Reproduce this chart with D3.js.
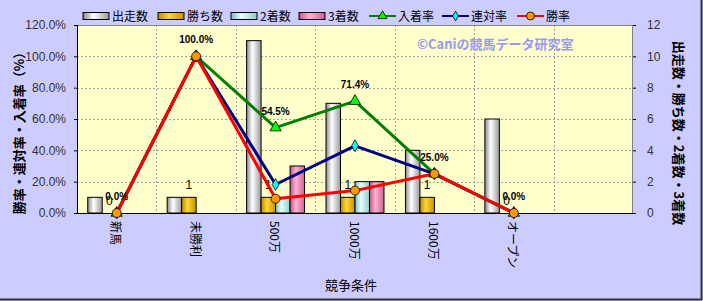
<!DOCTYPE html>
<html>
<head>
<meta charset="utf-8">
<script src="https://cdn.jsdelivr.net/npm/d3@7"></script>
<style>
  body { margin: 0; background: #fff; }
  text { font-family: "Liberation Sans", Arial, sans-serif; }
  .jp { font-family: "Noto Sans CJK JP", sans-serif; }
</style>
</head>
<body>
<div id="chart"></div>
<script>
// categories (7th slot is empty in the original)
var categories = ["新馬", "未勝利", "500万", "1000万", "1600万", "オープン", ""];
var countSeries = ["出走数", "勝ち数", "2着数", "3着数"];
var starts  = [1, 1, 11, 7, 4, 6];
var wins    = [0, 1, 1, 1, 1, 0];
var seconds = [0, 0, 1, 2, 0, 0];
var thirds  = [0, 0, 3, 2, 0, 0];
var placeRate = [0, 100, 54.5, 71.4, 25, 0];   // 入着率
var quinRate  = [0, 100, 18.2, 42.9, 25, 0];   // 連対率
var winRate   = [0, 100, 9.1, 14.3, 25, 0];    // 勝率
var leftTicks = [0, 20, 40, 60, 80, 100, 120];
var rightTicks = [0, 2, 4, 6, 8, 10, 12];

var W = 703, H = 301;
var L = 77, R = 633, T = 25, B = 213;

var svg = d3.select("#chart").append("svg")
    .attr("width", W).attr("height", H);

svg.append("rect").attr("width", W).attr("height", H).attr("fill", "#ccccff");
svg.append("line").attr("x1", 701.5).attr("x2", 701.5).attr("y1", 0).attr("y2", 300)
    .attr("stroke", "#333").attr("stroke-width", 2);
svg.append("line").attr("x1", 0).attr("x2", 702).attr("y1", 299.5).attr("y2", 299.5)
    .attr("stroke", "#333").attr("stroke-width", 2);

// gradients for the cylinder-ish bars
var defs = svg.append("defs");
var barColors = {
  "出走数": ["#8a8a8a", "#ffffff", "#9a9a9a"],
  "勝ち数": ["#b88a00", "#ffd633", "#c89400"],
  "2着数": ["#7fbcbc", "#e6ffff", "#8ccccc"],
  "3着数": ["#c0507f", "#ffb3d6", "#d0608f"]
};
countSeries.forEach(function(s, i) {
  var g = defs.append("linearGradient").attr("id", "g" + i)
      .attr("x1", "0%").attr("x2", "100%").attr("y1", "0%").attr("y2", "0%");
  var c = barColors[s];
  g.append("stop").attr("offset", "0%").attr("stop-color", c[0]);
  g.append("stop").attr("offset", "40%").attr("stop-color", c[1]);
  g.append("stop").attr("offset", "100%").attr("stop-color", c[2]);
});

var x = d3.scaleBand().domain(categories).range([L, R]).padding(0);
var xs = d3.scaleBand().domain(countSeries).range([0, x.bandwidth()])
    .paddingInner(0).paddingOuter(0.74);
var yL = d3.scaleLinear().domain([0, 120]).range([B, T]);
var yR = d3.scaleLinear().domain([0, 12]).range([B, T]);

// plot area
svg.append("rect").attr("x", L).attr("y", T).attr("width", R - L).attr("height", B - T)
    .attr("fill", "#ffffcc");

// grid
svg.append("g").selectAll("line").data(leftTicks.slice(1, -1)).join("line")
    .attr("x1", L).attr("x2", R)
    .attr("y1", function(d) { return Math.round(yL(d)) + 0.5; })
    .attr("y2", function(d) { return Math.round(yL(d)) + 0.5; })
    .attr("stroke", "#a0a0a0").attr("stroke-dasharray", "2,2");
svg.append("g").selectAll("line").data(categories.slice(1)).join("line")
    .attr("x1", function(d) { return Math.round(x(d)) + 0.5; })
    .attr("x2", function(d) { return Math.round(x(d)) + 0.5; })
    .attr("y1", T).attr("y2", B)
    .attr("stroke", "#a0a0a0").attr("stroke-dasharray", "2,2");

// bars
var counts = [starts, wins, seconds, thirds];
countSeries.forEach(function(s, i) {
  svg.append("g").selectAll("rect").data(counts[i]).join("rect")
      .attr("x", function(d, j) { return x(categories[j]) + xs(s); })
      .attr("y", function(d) { return yR(d); })
      .attr("width", xs.bandwidth())
      .attr("height", function(d) { return B - yR(d); })
      .attr("fill", "url(#g" + i + ")")
      .attr("stroke", "#000").attr("stroke-width", 1);
});

// plot frame
svg.append("rect").attr("x", L + 0.5).attr("y", T + 0.5).attr("width", R - L - 1).attr("height", B - T)
    .attr("fill", "none").attr("stroke", "#808080");
svg.append("line").attr("x1", L).attr("x2", R).attr("y1", B + 0.5).attr("y2", B + 0.5)
    .attr("stroke", "#000");
svg.append("line").attr("x1", L + 0.5).attr("x2", L + 0.5).attr("y1", T).attr("y2", B)
    .attr("stroke", "#000");

// wins labels
svg.append("g").selectAll("text").data(wins).join("text")
    .attr("x", function(d, j) { return x(categories[j]) + xs("勝ち数") + xs.bandwidth() / 2; })
    .attr("y", function(d) { return yR(d) - 8; })
    .attr("text-anchor", "middle").attr("font-size", 12).attr("fill", "#000")
    .text(function(d) { return d; });

// lines
var cx = function(d, j) { return x(categories[j]) + x.bandwidth() / 2; };
var line = d3.line().x(cx).y(function(d) { return yL(d); });

function drawLine(data, color) {
  svg.append("path").attr("d", line(data)).attr("fill", "none")
      .attr("stroke", color).attr("stroke-width", 3).attr("stroke-linejoin", "round");
}
drawLine(placeRate, "#008000");
drawLine(quinRate, "#000080");
drawLine(winRate, "#ff0000");

var tri = d3.symbol().type(d3.symbolTriangle).size(55);
var dia = d3.symbol().type(d3.symbolDiamond).size(40);
svg.append("g").selectAll("path").data(placeRate).join("path")
    .attr("d", tri)
    .attr("transform", function(d, j) { return "translate(" + cx(d, j) + "," + yL(d) + ")"; })
    .attr("fill", "#00ff00").attr("stroke", "#000").attr("stroke-width", 0.8);
svg.append("g").selectAll("path").data(quinRate).join("path")
    .attr("d", dia)
    .attr("transform", function(d, j) { return "translate(" + cx(d, j) + "," + yL(d) + ")"; })
    .attr("fill", "#00ffff").attr("stroke", "#000").attr("stroke-width", 0.8);
svg.append("g").selectAll("circle").data(winRate).join("circle")
    .attr("cx", cx).attr("cy", function(d) { return yL(d); }).attr("r", 4.5)
    .attr("fill", "#ff9900").attr("stroke", "#000").attr("stroke-width", 0.8);

// place rate labels
svg.append("g").selectAll("text").data(placeRate).join("text")
    .attr("x", cx).attr("y", function(d) { return yL(d) - 13; })
    .attr("text-anchor", "middle").attr("font-size", 10).attr("font-weight", "bold")
    .attr("fill", "#000")
    .text(function(d) { return d.toFixed(1) + "%"; });

// axes
var axL = svg.append("g").attr("transform", "translate(" + L + ",0)")
    .call(d3.axisLeft(yL).tickValues(leftTicks).tickSize(3).tickPadding(8)
      .tickFormat(function(d) { return d.toFixed(1) + "%"; }));
var axR = svg.append("g").attr("transform", "translate(" + R + ",0)")
    .call(d3.axisRight(yR).tickValues(rightTicks).tickSize(3).tickPadding(11));
[axL, axR].forEach(function(a) {
  a.select(".domain").remove();
  a.selectAll("line").attr("stroke", "#000");
  a.selectAll("text").attr("font-size", 12).attr("fill", "#333")
      .attr("font-family", "Liberation Sans, Arial, sans-serif");
});

// x labels (rotated)
svg.append("g").selectAll("text").data(categories).join("text")
    .attr("class", "jp")
    .attr("transform", function(d) { return "translate(" + (x(d) + x.bandwidth() / 2) + ",221) rotate(90)"; })
    .attr("text-anchor", "start").attr("dominant-baseline", "central")
    .attr("font-size", 12).attr("fill", "#000")
    .text(function(d) { return d; });

// axis titles
svg.append("text").attr("class", "jp")
    .attr("transform", "translate(18,130) rotate(-90)")
    .attr("text-anchor", "middle").attr("dominant-baseline", "central")
    .attr("font-size", 13).attr("font-weight", "bold").attr("fill", "#000")
    .text("勝率・連対率・入着率（%）");
svg.append("text").attr("class", "jp")
    .attr("transform", "translate(679,133) rotate(90)")
    .attr("text-anchor", "middle").attr("dominant-baseline", "central")
    .attr("font-size", 13).attr("font-weight", "bold").attr("fill", "#000")
    .text("出走数・勝ち数・2着数・3着数");
svg.append("text").attr("class", "jp")
    .attr("x", 351).attr("y", 290).attr("text-anchor", "middle")
    .attr("font-size", 13).attr("fill", "#000")
    .text("競争条件");

// watermark
svg.append("text").attr("class", "jp")
    .attr("x", 417).attr("y", 49)
    .attr("font-size", 13).attr("font-weight", "bold").attr("fill", "#9999ee")
    .text("©Caniの競馬データ研究室");

// legend
var legBars = [{n: "出走数", x: 83}, {n: "勝ち数", x: 158}, {n: "2着数", x: 231}, {n: "3着数", x: 299}];
legBars.forEach(function(d, i) {
  svg.append("rect").attr("x", d.x).attr("y", 12.5).attr("width", 26).attr("height", 7)
      .attr("fill", "url(#g" + i + ")").attr("stroke", "#000");
  svg.append("text").attr("class", "jp").attr("x", d.x + 29).attr("y", 20.5)
      .attr("font-size", 12).attr("fill", "#000").text(d.n);
});
var legLines = [
  {n: "入着率", x: 369, c: "#008000", m: "tri"},
  {n: "連対率", x: 442, c: "#000080", m: "dia"},
  {n: "勝率", x: 517, c: "#ff0000", m: "cir"}
];
legLines.forEach(function(d) {
  svg.append("line").attr("x1", d.x).attr("x2", d.x + 27).attr("y1", 16).attr("y2", 16)
      .attr("stroke", d.c).attr("stroke-width", 2);
  var mx = d.x + 13.5;
  if (d.m === "tri") {
    svg.append("path").attr("d", d3.symbol().type(d3.symbolTriangle).size(35))
        .attr("transform", "translate(" + mx + ",16)")
        .attr("fill", "#00ff00").attr("stroke", "#000").attr("stroke-width", 0.8);
  } else if (d.m === "dia") {
    svg.append("path").attr("d", d3.symbol().type(d3.symbolDiamond).size(28))
        .attr("transform", "translate(" + mx + ",16)")
        .attr("fill", "#00ffff").attr("stroke", "#000").attr("stroke-width", 0.8);
  } else {
    svg.append("circle").attr("cx", mx).attr("cy", 16).attr("r", 4)
        .attr("fill", "#ff9900").attr("stroke", "#000").attr("stroke-width", 0.8);
  }
  svg.append("text").attr("class", "jp").attr("x", d.x + 29).attr("y", 20.5)
      .attr("font-size", 12).attr("fill", "#000").text(d.n);
});
</script>
</body>
</html>
